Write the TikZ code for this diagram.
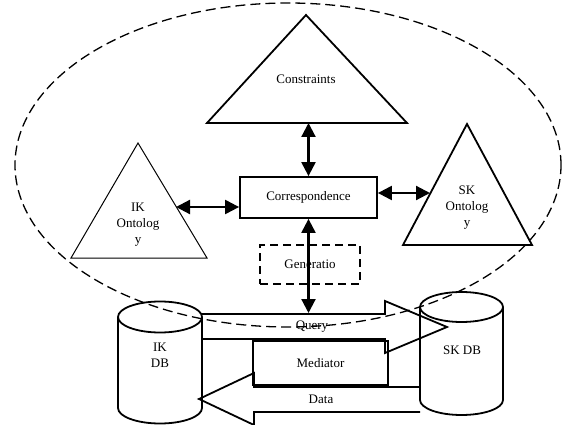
\documentclass[tikz,border=0pt]{standalone}
\usepackage{fontspec}
\setmainfont{Liberation Serif}
\usetikzlibrary{arrows.meta}
\begin{document}
\begin{tikzpicture}[x=1pt, y=-1pt, line width=1.8pt,
    every node/.style={font=\fontsize{13}{16}\selectfont, align=center, inner sep=0pt},
    dbl/.style={{Triangle[length=14pt,width=14pt]}-{Triangle[length=14pt,width=14pt]}, line width=2.2pt},
    box/.style={draw, inner sep=0pt}]
    \useasboundingbox (0,0) rectangle (562,425);
    % dashed scope
    \draw[line width=1.3pt, dash pattern=on 10pt off 5pt] (288,165) ellipse [x radius=273pt, y radius=162pt];
    % triangles
    \draw (207,123) -- (306,15) -- (407,123) -- cycle;
    \node (cons) at (306,79) {Constraints};
    \draw[line width=1pt] (71,258) -- (138,143) -- (207,258) -- cycle;
    \node (ikonto) at (138,225) {IK\\Ontolog\\y};
    \draw (403,245) -- (467,124) -- (532,245) -- cycle;
    \node (skonto) at (467,208) {SK\\Ontolog\\y};
    \coordinate (consbase) at (308.5,123);
    \coordinate (ikedge) at (176,207);
    \coordinate (skedge) at (430,193);
    \coordinate (qrytop) at (308.5,313);
    % boxes
    \node[box, minimum width=137pt, minimum height=41pt] (corr) at (308.5,197.5) {Correspondence};
    \node[box, dash pattern=on 8pt off 5pt, line width=2.2pt, minimum width=100pt, minimum height=39pt] (gen) at (310,264.5) {Generatio};
    \node[box, minimum width=135pt, minimum height=44pt] (med) at (320.5,363) {Mediator};
    % databases
    \draw (118,317) -- (118,408) arc[start angle=180, end angle=360, x radius=42pt, y radius=15.5pt] -- (202,317);
    \draw (160,317) ellipse [x radius=42pt, y radius=15.5pt];
    \node (ikdb) at (160,355) {IK\\DB};
    \draw (420,307) -- (420,400) arc[start angle=180, end angle=360, x radius=41.5pt, y radius=15pt] -- (503,307);
    \draw (461.5,307) ellipse [x radius=41.5pt, y radius=15pt];
    \node (skdb) at (462,350) {SK DB};
    % query and data
    \draw (202,314) -- (385,314) -- (385,301) -- (447,327) -- (385,353) -- (385,339) -- (202,339);
    \node (query) at (312,327) {Query};
    \draw (420,387) -- (254,387) -- (254,373) -- (199,399) -- (254,425) -- (254,412) -- (420,412);
    \node (data) at (321,399) {Data};
    % links
    \draw[dbl] (consbase) -- (consbase |- corr.north);
    \draw[dbl] (ikedge) -- (ikedge -| corr.west);
    \draw[dbl] (skedge -| corr.east) -- (skedge);
    \draw[dbl] (corr.south) -- (qrytop);
\end{tikzpicture}
\end{document}
